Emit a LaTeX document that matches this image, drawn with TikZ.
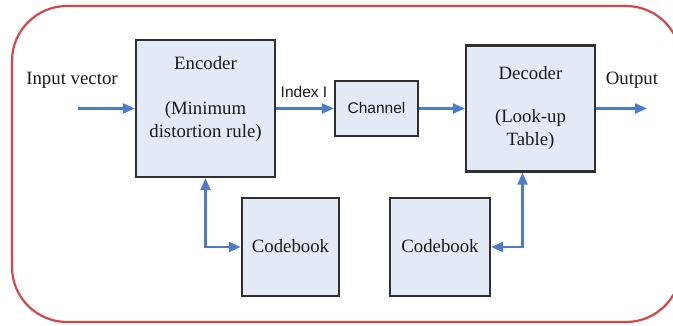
\documentclass[tikz,border=0pt]{standalone}
\usepackage{fontspec}
\setmainfont{Liberation Serif}
\newfontfamily\labelsans{Liberation Sans}
\usetikzlibrary{arrows.meta}
\definecolor{boxfill}{HTML}{E4EAF5}
\definecolor{framered}{HTML}{D04848}
\definecolor{flow}{HTML}{4A7CC9}
\definecolor{edgegray}{HTML}{303030}
\definecolor{ink}{HTML}{1A1A1A}

\begin{document}
\begin{tikzpicture}[x=1pt,y=-1pt,
  block/.style={draw=edgegray, line width=2.4pt, fill=boxfill, inner sep=0pt},
  serifText/.style={text=ink, font=\fontsize{18.8}{23}\selectfont, inner sep=0pt, align=center},
  sansText/.style={text=ink, font=\labelsans\fontsize{15.5}{18}\selectfont, inner sep=0pt},
  link/.style={draw=flow, line width=2.3pt, -{Triangle[length=12pt,width=10pt]}},
  twoway/.style={draw=flow, line width=2.3pt, {Triangle[length=12pt,width=10pt]}-{Triangle[length=12pt,width=10pt]}}]
\clip (0,0) rectangle (673,326);

% outer frame, its right side runs past the page edge
\draw[framered, line width=2.2pt, rounded corners=55pt] (12,6) rectangle (681,322);

% blocks
\node[block, minimum width=139pt, minimum height=137pt] (enc) at (205.5,108.5) {};
\node[block, minimum width=83pt, minimum height=55pt] (chan) at (376.5,108.5) {};
\node[block, minimum width=129pt, minimum height=126pt] (dec) at (530.5,108.5) {};
\node[block, minimum width=97pt, minimum height=98pt] (cbl) at (290.5,247) {};
\node[block, minimum width=100pt, minimum height=98pt] (cbr) at (440,247) {};

% block texts
\node[serifText] (encTitle) at (205.5,63) {Encoder};
\node[serifText] (encRule) at (205.5,121.5) {(Minimum\\distortion rule)};
\node[sansText] (chanText) at (376.5,108) {Channel};
\node[serifText] (decTitle) at (530.5,73) {Decoder};
\node[serifText] (decRule) at (530.5,129.5) {(Look-up\\Table)};
\node[serifText] (cblText) at (290.5,246) {Codebook};
\node[serifText] (cbrText) at (440,246) {Codebook};

% outside labels
\node[serifText] (inLabel) at (72,80) {Input vector};
\node[sansText] (idxLabel) at (304,92) {Index I};
\node[serifText] (outLabel) at (632,80) {Output};

% free ends of the input and output arrows
\coordinate (inStart) at (78,108.5);
\coordinate (outEnd) at (647,108.5);

% signal flow
\draw[link] (inStart) -- (enc.west);
\draw[link] (enc.east) -- (chan.west);
\draw[link] (chan.east) -- (dec.west);
\draw[link] (dec.east) -- (outEnd);

% codebook lookups
\draw[twoway] (enc.south) |- (cbl.west);
\draw[twoway] ([xshift=-8pt]dec.south) |- (cbr.east);
\end{tikzpicture}
\end{document}
